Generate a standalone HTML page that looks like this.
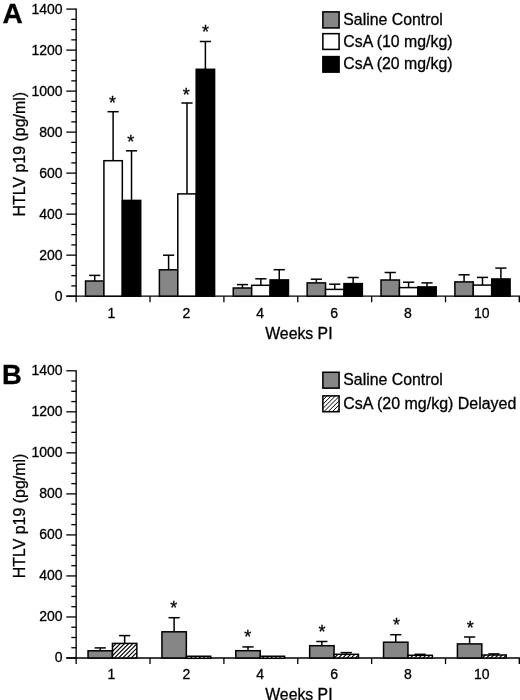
<!DOCTYPE html>
<html lang="en"><head><meta charset="utf-8"><title>HTLV p19 figure</title>
<style>
html,body{margin:0;padding:0;background:#fff;}
body{width:520px;height:700px;overflow:hidden;}
svg{display:block;will-change:transform;}
.t{font-family:'Liberation Sans', Arial, Helvetica, sans-serif;fill:#000;stroke:#000;stroke-width:0.3px;}
</style></head><body>
<svg width="520" height="700" viewBox="0 0 520 700">
<defs>
</defs>
<rect width="520" height="700" fill="#fff"/>
<line x1="76.15" y1="8.45" x2="76.15" y2="296.79999999999995" stroke="#000" stroke-width="1.35"/>
<line x1="66.3" y1="296.15" x2="520" y2="296.15" stroke="#000" stroke-width="1.35"/>
<line x1="66.3" y1="9.10" x2="76.15" y2="9.10" stroke="#000" stroke-width="1.3"/>
<text x="62.6" y="13.90" text-anchor="end" font-size="14" class="t">1400</text>
<line x1="71.3" y1="19.35" x2="76.15" y2="19.35" stroke="#000" stroke-width="1.3"/>
<line x1="71.3" y1="29.60" x2="76.15" y2="29.60" stroke="#000" stroke-width="1.3"/>
<line x1="71.3" y1="39.86" x2="76.15" y2="39.86" stroke="#000" stroke-width="1.3"/>
<line x1="66.3" y1="50.11" x2="76.15" y2="50.11" stroke="#000" stroke-width="1.3"/>
<text x="62.6" y="54.91" text-anchor="end" font-size="14" class="t">1200</text>
<line x1="71.3" y1="60.36" x2="76.15" y2="60.36" stroke="#000" stroke-width="1.3"/>
<line x1="71.3" y1="70.61" x2="76.15" y2="70.61" stroke="#000" stroke-width="1.3"/>
<line x1="71.3" y1="80.86" x2="76.15" y2="80.86" stroke="#000" stroke-width="1.3"/>
<line x1="66.3" y1="91.11" x2="76.15" y2="91.11" stroke="#000" stroke-width="1.3"/>
<text x="62.6" y="95.91" text-anchor="end" font-size="14" class="t">1000</text>
<line x1="71.3" y1="101.37" x2="76.15" y2="101.37" stroke="#000" stroke-width="1.3"/>
<line x1="71.3" y1="111.62" x2="76.15" y2="111.62" stroke="#000" stroke-width="1.3"/>
<line x1="71.3" y1="121.87" x2="76.15" y2="121.87" stroke="#000" stroke-width="1.3"/>
<line x1="66.3" y1="132.12" x2="76.15" y2="132.12" stroke="#000" stroke-width="1.3"/>
<text x="62.6" y="136.92" text-anchor="end" font-size="14" class="t">800</text>
<line x1="71.3" y1="142.37" x2="76.15" y2="142.37" stroke="#000" stroke-width="1.3"/>
<line x1="71.3" y1="152.62" x2="76.15" y2="152.62" stroke="#000" stroke-width="1.3"/>
<line x1="71.3" y1="162.88" x2="76.15" y2="162.88" stroke="#000" stroke-width="1.3"/>
<line x1="66.3" y1="173.13" x2="76.15" y2="173.13" stroke="#000" stroke-width="1.3"/>
<text x="62.6" y="177.93" text-anchor="end" font-size="14" class="t">600</text>
<line x1="71.3" y1="183.38" x2="76.15" y2="183.38" stroke="#000" stroke-width="1.3"/>
<line x1="71.3" y1="193.63" x2="76.15" y2="193.63" stroke="#000" stroke-width="1.3"/>
<line x1="71.3" y1="203.88" x2="76.15" y2="203.88" stroke="#000" stroke-width="1.3"/>
<line x1="66.3" y1="214.14" x2="76.15" y2="214.14" stroke="#000" stroke-width="1.3"/>
<text x="62.6" y="218.94" text-anchor="end" font-size="14" class="t">400</text>
<line x1="71.3" y1="224.39" x2="76.15" y2="224.39" stroke="#000" stroke-width="1.3"/>
<line x1="71.3" y1="234.64" x2="76.15" y2="234.64" stroke="#000" stroke-width="1.3"/>
<line x1="71.3" y1="244.89" x2="76.15" y2="244.89" stroke="#000" stroke-width="1.3"/>
<line x1="66.3" y1="255.14" x2="76.15" y2="255.14" stroke="#000" stroke-width="1.3"/>
<text x="62.6" y="259.94" text-anchor="end" font-size="14" class="t">200</text>
<line x1="71.3" y1="265.39" x2="76.15" y2="265.39" stroke="#000" stroke-width="1.3"/>
<line x1="71.3" y1="275.65" x2="76.15" y2="275.65" stroke="#000" stroke-width="1.3"/>
<line x1="71.3" y1="285.90" x2="76.15" y2="285.90" stroke="#000" stroke-width="1.3"/>
<line x1="66.3" y1="296.15" x2="76.15" y2="296.15" stroke="#000" stroke-width="1.3"/>
<text x="62.6" y="300.95" text-anchor="end" font-size="14" class="t">0</text>
<line x1="76.15" y1="296.15" x2="76.15" y2="302.25" stroke="#000" stroke-width="1.3"/>
<line x1="150.03" y1="296.15" x2="150.03" y2="302.25" stroke="#000" stroke-width="1.3"/>
<line x1="223.90" y1="296.15" x2="223.90" y2="302.25" stroke="#000" stroke-width="1.3"/>
<line x1="297.77" y1="296.15" x2="297.77" y2="302.25" stroke="#000" stroke-width="1.3"/>
<line x1="371.65" y1="296.15" x2="371.65" y2="302.25" stroke="#000" stroke-width="1.3"/>
<line x1="445.52" y1="296.15" x2="445.52" y2="302.25" stroke="#000" stroke-width="1.3"/>
<line x1="519.40" y1="296.15" x2="519.40" y2="302.25" stroke="#000" stroke-width="1.6"/>
<text x="111.49" y="317.55" text-anchor="middle" font-size="14" class="t">1</text>
<text x="186.36" y="317.55" text-anchor="middle" font-size="14" class="t">2</text>
<text x="260.24" y="317.55" text-anchor="middle" font-size="14" class="t">4</text>
<text x="334.11" y="317.55" text-anchor="middle" font-size="14" class="t">6</text>
<text x="407.99" y="317.55" text-anchor="middle" font-size="14" class="t">8</text>
<text x="481.86" y="317.55" text-anchor="middle" font-size="14" class="t">10</text>
<text x="298.9" y="338.55" text-anchor="middle" font-size="15.8" class="t">Weeks PI</text>
<text transform="translate(25.2,154.2) rotate(-90)" text-anchor="middle" font-size="15.95" class="t">HTLV p19 (pg/ml)</text>
<line x1="94.72" y1="281.00" x2="94.72" y2="275.40" stroke="#000" stroke-width="1.5"/>
<line x1="89.12" y1="275.40" x2="100.32" y2="275.40" stroke="#000" stroke-width="1.5"/>
<rect x="85.52" y="281.00" width="18.40" height="15.15" fill="#868686" stroke="#000" stroke-width="1.5"/>
<line x1="113.12" y1="160.70" x2="113.12" y2="111.70" stroke="#000" stroke-width="1.5"/>
<line x1="107.52" y1="111.70" x2="118.72" y2="111.70" stroke="#000" stroke-width="1.5"/>
<rect x="103.92" y="160.70" width="18.40" height="135.45" fill="#fff" stroke="#000" stroke-width="1.5"/>
<line x1="131.52" y1="200.40" x2="131.52" y2="150.80" stroke="#000" stroke-width="1.5"/>
<line x1="125.92" y1="150.80" x2="137.12" y2="150.80" stroke="#000" stroke-width="1.5"/>
<rect x="122.32" y="200.40" width="18.40" height="95.75" fill="#000" stroke="#000" stroke-width="1.5"/>
<line x1="168.59" y1="269.80" x2="168.59" y2="255.20" stroke="#000" stroke-width="1.5"/>
<line x1="163.00" y1="255.20" x2="174.19" y2="255.20" stroke="#000" stroke-width="1.5"/>
<rect x="159.40" y="269.80" width="18.40" height="26.35" fill="#868686" stroke="#000" stroke-width="1.5"/>
<line x1="187.00" y1="193.90" x2="187.00" y2="103.00" stroke="#000" stroke-width="1.5"/>
<line x1="181.40" y1="103.00" x2="192.59" y2="103.00" stroke="#000" stroke-width="1.5"/>
<rect x="177.80" y="193.90" width="18.40" height="102.25" fill="#fff" stroke="#000" stroke-width="1.5"/>
<line x1="205.39" y1="69.30" x2="205.39" y2="41.50" stroke="#000" stroke-width="1.5"/>
<line x1="199.79" y1="41.50" x2="210.99" y2="41.50" stroke="#000" stroke-width="1.5"/>
<rect x="196.19" y="69.30" width="18.40" height="226.85" fill="#000" stroke="#000" stroke-width="1.5"/>
<line x1="242.47" y1="288.00" x2="242.47" y2="284.60" stroke="#000" stroke-width="1.5"/>
<line x1="236.87" y1="284.60" x2="248.07" y2="284.60" stroke="#000" stroke-width="1.5"/>
<rect x="233.27" y="288.00" width="18.40" height="8.15" fill="#868686" stroke="#000" stroke-width="1.5"/>
<line x1="260.87" y1="285.30" x2="260.87" y2="278.80" stroke="#000" stroke-width="1.5"/>
<line x1="255.27" y1="278.80" x2="266.47" y2="278.80" stroke="#000" stroke-width="1.5"/>
<rect x="251.67" y="285.30" width="18.40" height="10.85" fill="#fff" stroke="#000" stroke-width="1.5"/>
<line x1="279.27" y1="279.90" x2="279.27" y2="269.70" stroke="#000" stroke-width="1.5"/>
<line x1="273.67" y1="269.70" x2="284.87" y2="269.70" stroke="#000" stroke-width="1.5"/>
<rect x="270.07" y="279.90" width="18.40" height="16.25" fill="#000" stroke="#000" stroke-width="1.5"/>
<line x1="316.34" y1="282.90" x2="316.34" y2="279.20" stroke="#000" stroke-width="1.5"/>
<line x1="310.74" y1="279.20" x2="321.94" y2="279.20" stroke="#000" stroke-width="1.5"/>
<rect x="307.14" y="282.90" width="18.40" height="13.25" fill="#868686" stroke="#000" stroke-width="1.5"/>
<line x1="334.74" y1="289.40" x2="334.74" y2="284.20" stroke="#000" stroke-width="1.5"/>
<line x1="329.14" y1="284.20" x2="340.34" y2="284.20" stroke="#000" stroke-width="1.5"/>
<rect x="325.54" y="289.40" width="18.40" height="6.75" fill="#fff" stroke="#000" stroke-width="1.5"/>
<line x1="353.14" y1="283.60" x2="353.14" y2="277.50" stroke="#000" stroke-width="1.5"/>
<line x1="347.54" y1="277.50" x2="358.75" y2="277.50" stroke="#000" stroke-width="1.5"/>
<rect x="343.94" y="283.60" width="18.40" height="12.55" fill="#000" stroke="#000" stroke-width="1.5"/>
<line x1="390.22" y1="280.00" x2="390.22" y2="272.50" stroke="#000" stroke-width="1.5"/>
<line x1="384.62" y1="272.50" x2="395.82" y2="272.50" stroke="#000" stroke-width="1.5"/>
<rect x="381.02" y="280.00" width="18.40" height="16.15" fill="#868686" stroke="#000" stroke-width="1.5"/>
<line x1="408.62" y1="287.60" x2="408.62" y2="282.20" stroke="#000" stroke-width="1.5"/>
<line x1="403.02" y1="282.20" x2="414.22" y2="282.20" stroke="#000" stroke-width="1.5"/>
<rect x="399.42" y="287.60" width="18.40" height="8.55" fill="#fff" stroke="#000" stroke-width="1.5"/>
<line x1="427.02" y1="286.90" x2="427.02" y2="282.90" stroke="#000" stroke-width="1.5"/>
<line x1="421.42" y1="282.90" x2="432.62" y2="282.90" stroke="#000" stroke-width="1.5"/>
<rect x="417.82" y="286.90" width="18.40" height="9.25" fill="#000" stroke="#000" stroke-width="1.5"/>
<line x1="464.09" y1="281.90" x2="464.09" y2="274.80" stroke="#000" stroke-width="1.5"/>
<line x1="458.49" y1="274.80" x2="469.69" y2="274.80" stroke="#000" stroke-width="1.5"/>
<rect x="454.89" y="281.90" width="18.40" height="14.25" fill="#868686" stroke="#000" stroke-width="1.5"/>
<line x1="482.49" y1="285.10" x2="482.49" y2="277.40" stroke="#000" stroke-width="1.5"/>
<line x1="476.89" y1="277.40" x2="488.09" y2="277.40" stroke="#000" stroke-width="1.5"/>
<rect x="473.29" y="285.10" width="18.40" height="11.05" fill="#fff" stroke="#000" stroke-width="1.5"/>
<line x1="500.89" y1="278.95" x2="500.89" y2="268.10" stroke="#000" stroke-width="1.5"/>
<line x1="495.29" y1="268.10" x2="506.50" y2="268.10" stroke="#000" stroke-width="1.5"/>
<rect x="491.69" y="278.95" width="18.40" height="17.20" fill="#000" stroke="#000" stroke-width="1.5"/>
<text x="112.50" y="108.90" text-anchor="middle" font-size="18" class="t">*</text>
<text x="130.70" y="147.60" text-anchor="middle" font-size="18" class="t">*</text>
<text x="186.30" y="100.80" text-anchor="middle" font-size="18" class="t">*</text>
<text x="205.40" y="38.40" text-anchor="middle" font-size="18" class="t">*</text>
<rect x="322.88" y="11.88" width="16.20" height="16.05" fill="#868686" stroke="#000" stroke-width="1.55"/>
<text x="343.3" y="25.30" font-size="15.85" class="t">Saline Control</text>
<rect x="322.88" y="33.67" width="16.20" height="15.75" fill="#fff" stroke="#000" stroke-width="1.55"/>
<text x="343.3" y="46.60" font-size="15.85" class="t">CsA (10 mg/kg)</text>
<rect x="322.88" y="56.62" width="16.20" height="15.50" fill="#000" stroke="#000" stroke-width="1.55"/>
<text x="343.3" y="69.00" font-size="15.85" class="t">CsA (20 mg/kg)</text>
<text x="2.4" y="22.9" font-size="28.0" font-weight="bold" class="t">A</text>
<line x1="76.15" y1="370.15000000000003" x2="76.15" y2="658.65" stroke="#000" stroke-width="1.35"/>
<line x1="66.3" y1="658.0" x2="520" y2="658.0" stroke="#000" stroke-width="1.35"/>
<line x1="66.3" y1="370.80" x2="76.15" y2="370.80" stroke="#000" stroke-width="1.3"/>
<text x="62.6" y="375.10" text-anchor="end" font-size="14" class="t">1400</text>
<line x1="71.3" y1="381.06" x2="76.15" y2="381.06" stroke="#000" stroke-width="1.3"/>
<line x1="71.3" y1="391.31" x2="76.15" y2="391.31" stroke="#000" stroke-width="1.3"/>
<line x1="71.3" y1="401.57" x2="76.15" y2="401.57" stroke="#000" stroke-width="1.3"/>
<line x1="66.3" y1="411.83" x2="76.15" y2="411.83" stroke="#000" stroke-width="1.3"/>
<text x="62.6" y="416.13" text-anchor="end" font-size="14" class="t">1200</text>
<line x1="71.3" y1="422.09" x2="76.15" y2="422.09" stroke="#000" stroke-width="1.3"/>
<line x1="71.3" y1="432.34" x2="76.15" y2="432.34" stroke="#000" stroke-width="1.3"/>
<line x1="71.3" y1="442.60" x2="76.15" y2="442.60" stroke="#000" stroke-width="1.3"/>
<line x1="66.3" y1="452.86" x2="76.15" y2="452.86" stroke="#000" stroke-width="1.3"/>
<text x="62.6" y="457.16" text-anchor="end" font-size="14" class="t">1000</text>
<line x1="71.3" y1="463.11" x2="76.15" y2="463.11" stroke="#000" stroke-width="1.3"/>
<line x1="71.3" y1="473.37" x2="76.15" y2="473.37" stroke="#000" stroke-width="1.3"/>
<line x1="71.3" y1="483.63" x2="76.15" y2="483.63" stroke="#000" stroke-width="1.3"/>
<line x1="66.3" y1="493.89" x2="76.15" y2="493.89" stroke="#000" stroke-width="1.3"/>
<text x="62.6" y="498.19" text-anchor="end" font-size="14" class="t">800</text>
<line x1="71.3" y1="504.14" x2="76.15" y2="504.14" stroke="#000" stroke-width="1.3"/>
<line x1="71.3" y1="514.40" x2="76.15" y2="514.40" stroke="#000" stroke-width="1.3"/>
<line x1="71.3" y1="524.66" x2="76.15" y2="524.66" stroke="#000" stroke-width="1.3"/>
<line x1="66.3" y1="534.91" x2="76.15" y2="534.91" stroke="#000" stroke-width="1.3"/>
<text x="62.6" y="539.21" text-anchor="end" font-size="14" class="t">600</text>
<line x1="71.3" y1="545.17" x2="76.15" y2="545.17" stroke="#000" stroke-width="1.3"/>
<line x1="71.3" y1="555.43" x2="76.15" y2="555.43" stroke="#000" stroke-width="1.3"/>
<line x1="71.3" y1="565.69" x2="76.15" y2="565.69" stroke="#000" stroke-width="1.3"/>
<line x1="66.3" y1="575.94" x2="76.15" y2="575.94" stroke="#000" stroke-width="1.3"/>
<text x="62.6" y="580.24" text-anchor="end" font-size="14" class="t">400</text>
<line x1="71.3" y1="586.20" x2="76.15" y2="586.20" stroke="#000" stroke-width="1.3"/>
<line x1="71.3" y1="596.46" x2="76.15" y2="596.46" stroke="#000" stroke-width="1.3"/>
<line x1="71.3" y1="606.71" x2="76.15" y2="606.71" stroke="#000" stroke-width="1.3"/>
<line x1="66.3" y1="616.97" x2="76.15" y2="616.97" stroke="#000" stroke-width="1.3"/>
<text x="62.6" y="621.27" text-anchor="end" font-size="14" class="t">200</text>
<line x1="71.3" y1="627.23" x2="76.15" y2="627.23" stroke="#000" stroke-width="1.3"/>
<line x1="71.3" y1="637.49" x2="76.15" y2="637.49" stroke="#000" stroke-width="1.3"/>
<line x1="71.3" y1="647.74" x2="76.15" y2="647.74" stroke="#000" stroke-width="1.3"/>
<line x1="66.3" y1="658.00" x2="76.15" y2="658.00" stroke="#000" stroke-width="1.3"/>
<text x="62.6" y="662.30" text-anchor="end" font-size="14" class="t">0</text>
<line x1="76.15" y1="658.0" x2="76.15" y2="664.1" stroke="#000" stroke-width="1.3"/>
<line x1="150.03" y1="658.0" x2="150.03" y2="664.1" stroke="#000" stroke-width="1.3"/>
<line x1="223.90" y1="658.0" x2="223.90" y2="664.1" stroke="#000" stroke-width="1.3"/>
<line x1="297.77" y1="658.0" x2="297.77" y2="664.1" stroke="#000" stroke-width="1.3"/>
<line x1="371.65" y1="658.0" x2="371.65" y2="664.1" stroke="#000" stroke-width="1.3"/>
<line x1="445.52" y1="658.0" x2="445.52" y2="664.1" stroke="#000" stroke-width="1.3"/>
<line x1="519.40" y1="658.0" x2="519.40" y2="664.1" stroke="#000" stroke-width="1.6"/>
<text x="111.49" y="679.40" text-anchor="middle" font-size="14" class="t">1</text>
<text x="186.36" y="679.40" text-anchor="middle" font-size="14" class="t">2</text>
<text x="260.24" y="679.40" text-anchor="middle" font-size="14" class="t">4</text>
<text x="334.11" y="679.40" text-anchor="middle" font-size="14" class="t">6</text>
<text x="407.99" y="679.40" text-anchor="middle" font-size="14" class="t">8</text>
<text x="481.86" y="679.40" text-anchor="middle" font-size="14" class="t">10</text>
<text x="298.9" y="700.40" text-anchor="middle" font-size="15.8" class="t">Weeks PI</text>
<text transform="translate(25.2,516.0) rotate(-90)" text-anchor="middle" font-size="15.95" class="t">HTLV p19 (pg/ml)</text>
<line x1="100.25" y1="650.80" x2="100.25" y2="647.90" stroke="#000" stroke-width="1.5"/>
<line x1="94.65" y1="647.90" x2="105.85" y2="647.90" stroke="#000" stroke-width="1.5"/>
<rect x="88.05" y="650.80" width="24.40" height="7.20" fill="#868686" stroke="#000" stroke-width="1.5"/>
<line x1="124.65" y1="643.40" x2="124.65" y2="635.60" stroke="#000" stroke-width="1.5"/>
<line x1="119.05" y1="635.60" x2="130.25" y2="635.60" stroke="#000" stroke-width="1.5"/>
<rect x="112.45" y="643.40" width="24.40" height="14.60" fill="#fff"/>
<clipPath id="c1"><rect x="112.45" y="643.40" width="24.40" height="14.60"/></clipPath>
<path clip-path="url(#c1)" d="M92.15,659.00L108.75,642.40M96.38,659.00L112.98,642.40M100.61,659.00L117.21,642.40M104.84,659.00L121.44,642.40M109.07,659.00L125.67,642.40M113.30,659.00L129.90,642.40M117.53,659.00L134.13,642.40M121.76,659.00L138.36,642.40M125.99,659.00L142.59,642.40M130.22,659.00L146.82,642.40M134.45,659.00L151.05,642.40" stroke="#000" stroke-width="1.15" fill="none"/>
<rect x="112.45" y="643.40" width="24.40" height="14.60" fill="none" stroke="#000" stroke-width="1.5"/>
<line x1="174.12" y1="631.80" x2="174.12" y2="617.70" stroke="#000" stroke-width="1.5"/>
<line x1="168.53" y1="617.70" x2="179.72" y2="617.70" stroke="#000" stroke-width="1.5"/>
<rect x="161.93" y="631.80" width="24.40" height="26.20" fill="#868686" stroke="#000" stroke-width="1.5"/>
<rect x="186.33" y="656.25" width="24.40" height="2.05" fill="#fff"/>
<clipPath id="c2"><rect x="186.33" y="656.25" width="24.40" height="2.05"/></clipPath>
<path clip-path="url(#c2)" d="M176.75,659.30L180.80,655.25M180.98,659.30L185.03,655.25M185.21,659.30L189.26,655.25M189.44,659.30L193.49,655.25M193.67,659.30L197.72,655.25M197.90,659.30L201.95,655.25M202.13,659.30L206.18,655.25M206.36,659.30L210.41,655.25M210.59,659.30L214.64,655.25" stroke="#000" stroke-width="1.15" fill="none"/>
<rect x="186.33" y="656.25" width="24.40" height="2.05" fill="none" stroke="#000" stroke-width="1.5"/>
<line x1="248.00" y1="650.70" x2="248.00" y2="646.90" stroke="#000" stroke-width="1.5"/>
<line x1="242.40" y1="646.90" x2="253.60" y2="646.90" stroke="#000" stroke-width="1.5"/>
<rect x="235.80" y="650.70" width="24.40" height="7.30" fill="#868686" stroke="#000" stroke-width="1.5"/>
<rect x="260.20" y="656.25" width="24.40" height="2.05" fill="#fff"/>
<clipPath id="c3"><rect x="260.20" y="656.25" width="24.40" height="2.05"/></clipPath>
<path clip-path="url(#c3)" d="M252.89,659.30L256.94,655.25M257.12,659.30L261.17,655.25M261.35,659.30L265.40,655.25M265.58,659.30L269.63,655.25M269.81,659.30L273.86,655.25M274.04,659.30L278.09,655.25M278.27,659.30L282.32,655.25M282.50,659.30L286.55,655.25" stroke="#000" stroke-width="1.15" fill="none"/>
<rect x="260.20" y="656.25" width="24.40" height="2.05" fill="none" stroke="#000" stroke-width="1.5"/>
<line x1="321.87" y1="645.70" x2="321.87" y2="641.50" stroke="#000" stroke-width="1.5"/>
<line x1="316.27" y1="641.50" x2="327.47" y2="641.50" stroke="#000" stroke-width="1.5"/>
<rect x="309.67" y="645.70" width="24.40" height="12.30" fill="#868686" stroke="#000" stroke-width="1.5"/>
<line x1="346.27" y1="654.30" x2="346.27" y2="652.60" stroke="#000" stroke-width="1.5"/>
<line x1="340.67" y1="652.60" x2="351.87" y2="652.60" stroke="#000" stroke-width="1.5"/>
<rect x="334.07" y="654.30" width="24.40" height="3.70" fill="#fff"/>
<clipPath id="c4"><rect x="334.07" y="654.30" width="24.40" height="3.70"/></clipPath>
<path clip-path="url(#c4)" d="M324.80,659.00L330.50,653.30M329.03,659.00L334.73,653.30M333.26,659.00L338.96,653.30M337.49,659.00L343.19,653.30M341.72,659.00L347.42,653.30M345.95,659.00L351.65,653.30M350.18,659.00L355.88,653.30M354.41,659.00L360.11,653.30" stroke="#000" stroke-width="1.15" fill="none"/>
<rect x="334.07" y="654.30" width="24.40" height="3.70" fill="none" stroke="#000" stroke-width="1.5"/>
<line x1="395.75" y1="642.20" x2="395.75" y2="634.70" stroke="#000" stroke-width="1.5"/>
<line x1="390.15" y1="634.70" x2="401.35" y2="634.70" stroke="#000" stroke-width="1.5"/>
<rect x="383.55" y="642.20" width="24.40" height="15.80" fill="#868686" stroke="#000" stroke-width="1.5"/>
<line x1="420.15" y1="655.30" x2="420.15" y2="654.30" stroke="#000" stroke-width="1.5"/>
<line x1="414.55" y1="654.30" x2="425.75" y2="654.30" stroke="#000" stroke-width="1.5"/>
<rect x="407.95" y="655.30" width="24.40" height="2.70" fill="#fff"/>
<clipPath id="c5"><rect x="407.95" y="655.30" width="24.40" height="2.70"/></clipPath>
<path clip-path="url(#c5)" d="M396.71,659.00L401.41,654.30M400.94,659.00L405.64,654.30M405.17,659.00L409.87,654.30M409.40,659.00L414.10,654.30M413.63,659.00L418.33,654.30M417.86,659.00L422.56,654.30M422.09,659.00L426.79,654.30M426.32,659.00L431.02,654.30M430.55,659.00L435.25,654.30" stroke="#000" stroke-width="1.15" fill="none"/>
<rect x="407.95" y="655.30" width="24.40" height="2.70" fill="none" stroke="#000" stroke-width="1.5"/>
<line x1="469.62" y1="643.90" x2="469.62" y2="637.00" stroke="#000" stroke-width="1.5"/>
<line x1="464.02" y1="637.00" x2="475.22" y2="637.00" stroke="#000" stroke-width="1.5"/>
<rect x="457.42" y="643.90" width="24.40" height="14.10" fill="#868686" stroke="#000" stroke-width="1.5"/>
<line x1="494.02" y1="655.00" x2="494.02" y2="653.90" stroke="#000" stroke-width="1.5"/>
<line x1="488.42" y1="653.90" x2="499.62" y2="653.90" stroke="#000" stroke-width="1.5"/>
<rect x="481.82" y="655.00" width="24.40" height="3.00" fill="#fff"/>
<clipPath id="c6"><rect x="481.82" y="655.00" width="24.40" height="3.00"/></clipPath>
<path clip-path="url(#c6)" d="M472.85,659.00L477.85,654.00M477.08,659.00L482.08,654.00M481.31,659.00L486.31,654.00M485.54,659.00L490.54,654.00M489.77,659.00L494.77,654.00M494.00,659.00L499.00,654.00M498.23,659.00L503.23,654.00M502.46,659.00L507.46,654.00" stroke="#000" stroke-width="1.15" fill="none"/>
<rect x="481.82" y="655.00" width="24.40" height="3.00" fill="none" stroke="#000" stroke-width="1.5"/>
<text x="173.80" y="614.00" text-anchor="middle" font-size="18" class="t">*</text>
<text x="247.70" y="643.20" text-anchor="middle" font-size="18" class="t">*</text>
<text x="321.90" y="637.70" text-anchor="middle" font-size="18" class="t">*</text>
<text x="396.50" y="631.40" text-anchor="middle" font-size="18" class="t">*</text>
<text x="470.30" y="633.70" text-anchor="middle" font-size="18" class="t">*</text>
<rect x="322.88" y="372.27" width="16.20" height="15.85" fill="#868686" stroke="#000" stroke-width="1.55"/>
<text x="343.3" y="385.10" font-size="15.85" class="t">Saline Control</text>
<rect x="322.88" y="395.88" width="16.20" height="15.85" fill="#fff"/>
<clipPath id="c7"><rect x="322.88" y="395.88" width="16.20" height="15.85"/></clipPath>
<path clip-path="url(#c7)" d="M301.70,412.72L319.55,394.88M305.93,412.72L323.78,394.88M310.16,412.72L328.01,394.88M314.39,412.72L332.24,394.88M318.62,412.72L336.47,394.88M322.85,412.72L340.70,394.88M327.08,412.72L344.93,394.88M331.31,412.72L349.16,394.88M335.54,412.72L353.39,394.88" stroke="#000" stroke-width="1.0" fill="none"/>
<rect x="322.88" y="395.88" width="16.20" height="15.85" fill="none" stroke="#000" stroke-width="1.55"/>
<text x="343.3" y="408.60" font-size="15.97" class="t">CsA (20 mg/kg) Delayed</text>
<text x="2.1" y="384.1" font-size="27.4" font-weight="bold" class="t">B</text>
</svg>
</body></html>
